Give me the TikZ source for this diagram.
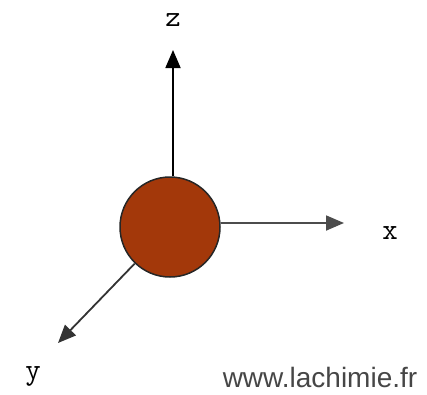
\documentclass[tikz,border=0pt]{standalone}
\usepackage{fontspec}
\setmainfont{Liberation Serif}
\setsansfont{Liberation Sans}
\newfontfamily\axfont{Latin Modern Mono}
\usetikzlibrary{arrows.meta}
\definecolor{atomfill}{RGB}{163,56,10}
\definecolor{webgray}{RGB}{70,70,70}
\begin{document}
\begin{tikzpicture}[x=1pt,y=-1pt,
  axis/.style={line width=1.8pt,-{Triangle[length=18pt,width=15pt]}},
  axlab/.style={font=\axfont\fontsize{30}{32}\selectfont,inner sep=0pt},
  atomstyle/.style={circle,draw=black!85,line width=1.5pt,fill=atomfill,minimum size=100pt,inner sep=0pt}]
\useasboundingbox (0,0) rectangle (427,394);
\node[atomstyle] (atom) at (170,227) {};
\coordinate (ztip) at (173,50);
\coordinate (xtip) at (344,223);
\coordinate (ytip) at (58,343);
\draw[axis,black] (atom.north -| ztip) -- (ztip);
\draw[axis,black!70] (atom.east |- xtip) -- (xtip);
\draw[axis,black!80] (atom) -- (ytip);
\node[axlab] (zlab) at (173,20) {z};
\node[axlab] (xlab) at (390,233) {x};
\node[axlab] (ylab) at (33,376) {y};
\node[font=\sffamily\fontsize{28}{30}\selectfont,text=webgray,inner sep=0pt] (web) at (320,377) {www.lachimie.fr};
\end{tikzpicture}
\end{document}
